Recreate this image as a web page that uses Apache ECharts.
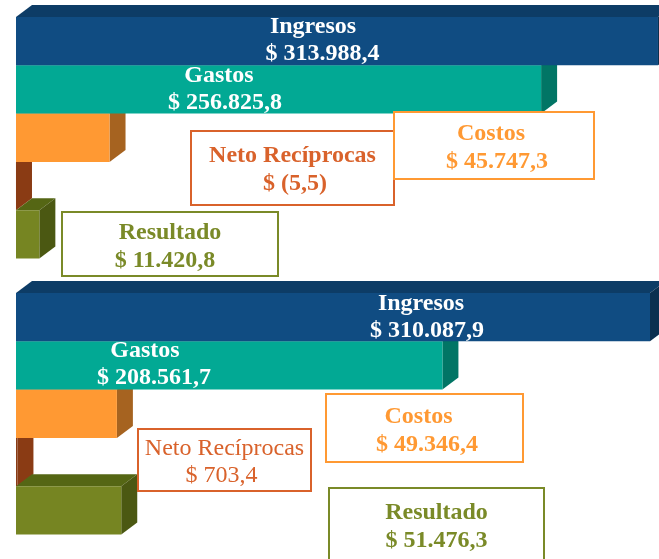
<!DOCTYPE html>
<html>
<head>
<meta charset="utf-8">
<title>Resultados</title>
<script src="https://cdn.jsdelivr.net/npm/echarts@6/dist/echarts.min.js"></script>
<style>
  html, body { margin: 0; padding: 0; background: #fff; overflow: hidden; }
  #container { width: 659px; height: 559px; }
</style>
</head>
<body>
<div id="container"></div>
<script>
/* Datos */
var categorias = ['Ingresos', 'Gastos', 'Costos', 'Neto Recíprocas', 'Resultado'];
var valoresArriba = [313988.4, 256825.8, 45747.3, -5.5, 11420.8];
var valoresAbajo = [310087.9, 208561.7, 49346.4, 703.4, 51476.3];

/* Colores por categoria: frente, tapa, lado */
var frentes = ['#104c82', '#02a994', '#ff9933', '#8a3b14', '#768522'];
var tapas = ['#0d3c66', '#017565', '#a66320', '#8a3b14', '#556614'];
var lados = ['#0b3050', '#017565', '#a66320', '#8a3b14', '#4b5812'];
var colorTexto = ['#ffffff', '#ffffff', '#ff9933', '#d9622b', '#7a8a28'];

/* Orden de dibujo: las barras de arriba tapan a las de abajo, salvo Resultado sobre Neto */
var ordenDibujo = [3, 4, 2, 1, 0];

var PROF_X = 16, PROF_Y = 12;

function formatoPesos(v) {
    var s = Math.abs(v).toFixed(1).replace('.', ',').replace(/\B(?=(\d{3})+,)/g, '.');
    return v < 0 ? '$ (' + s + ')' : '$ ' + s;
}

function renderBarra3d(params, api) {
    var cat = api.value(1);
    var fin = api.coord([api.value(0), cat]);
    var ini = api.coord([0, cat]);
    var alto = api.size([0, 1])[1];
    var x0 = ini[0], x1 = fin[0], y0 = fin[1] - alto / 2, y1 = fin[1] + alto / 2;
    return {
        type: 'group',
        children: [
            { type: 'polygon', shape: { points: [[x0, y0], [x1, y0], [x1 + PROF_X, y0 - PROF_Y], [x0 + PROF_X, y0 - PROF_Y]] }, style: { fill: tapas[cat] } },
            { type: 'polygon', shape: { points: [[x1, y0], [x1 + PROF_X, y0 - PROF_Y], [x1 + PROF_X, y1 - PROF_Y], [x1, y1]] }, style: { fill: lados[cat] } },
            { type: 'rect', shape: { x: x0, y: y0, width: x1 - x0, height: alto }, style: { fill: frentes[cat] } }
        ]
    };
}

function datosSerie(valores) {
    return ordenDibujo.map(function (i) {
        return [valores[i], i];
    });
}

/* Textos y cajas */
var textos = [];

function etiqueta(cat, valor, xNom, yNom, xVal, yVal, caja, normal) {
    var fuente = (normal ? '' : 'bold ') + '24px "Liberation Serif", "Times New Roman", serif';
    if (caja) {
        textos.push({
            type: 'rect', z: 10,
            shape: { x: caja[0], y: caja[1], width: caja[2], height: caja[3] },
            style: { fill: '#fff', stroke: colorTexto[cat], lineWidth: 2 }
        });
    }
    [[categorias[cat], xNom, yNom], [formatoPesos(valor), xVal, yVal]].forEach(function (t) {
        textos.push({
            type: 'text', z: 11, x: t[1], y: t[2],
            style: { text: t[0], font: fuente, fill: colorTexto[cat], align: 'center', verticalAlign: 'middle' }
        });
    });
}

etiqueta(4, valoresArriba[4], 170, 233, 165, 261, [62, 212, 216, 64]);
etiqueta(3, valoresArriba[3], 292.5, 156, 295, 184, [191, 131, 203, 74]);
etiqueta(2, valoresArriba[2], 491, 134, 497, 162, [394, 112, 200, 67]);
etiqueta(0, valoresArriba[0], 313, 27, 322.5, 54);
etiqueta(1, valoresArriba[1], 219, 76, 225, 103);

etiqueta(0, valoresAbajo[0], 421, 304, 427, 331);
etiqueta(1, valoresAbajo[1], 145, 351, 154, 378);
etiqueta(2, valoresAbajo[2], 418.5, 417, 427, 445, [326, 394, 197, 68]);
etiqueta(4, valoresAbajo[4], 436.5, 513, 436.5, 541, [329, 488, 215, 80]);
etiqueta(3, valoresAbajo[3], 224.5, 449, 221.5, 476, [138, 429, 173, 62], true);

var dom = document.getElementById('container');
var myChart = echarts.init(dom, null, { renderer: 'canvas' });

var option = {
    animation: false,
    grid: [
        { left: 16, top: 17, width: 642, height: 241.5 },
        { left: 16, top: 293, width: 642, height: 241.5 }
    ],
    xAxis: [
        { type: 'value', gridIndex: 0, min: 0, max: 314000, show: false },
        { type: 'value', gridIndex: 1, min: 0, max: 314000, show: false }
    ],
    yAxis: [
        { type: 'category', gridIndex: 0, data: categorias, inverse: true, show: false },
        { type: 'category', gridIndex: 1, data: categorias, inverse: true, show: false }
    ],
    series: [
        {
            type: 'custom', xAxisIndex: 0, yAxisIndex: 0,
            renderItem: renderBarra3d,
            encode: { x: 0, y: 1 },
            data: datosSerie(valoresArriba)
        },
        {
            type: 'custom', xAxisIndex: 1, yAxisIndex: 1,
            renderItem: renderBarra3d,
            encode: { x: 0, y: 1 },
            data: datosSerie(valoresAbajo)
        }
    ],
    graphic: { elements: textos }
};

myChart.setOption(option);
</script>
</body>
</html>
